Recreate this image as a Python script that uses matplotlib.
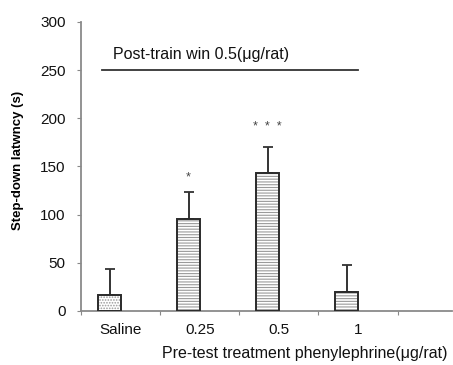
import matplotlib
matplotlib.use("Agg")
import matplotlib.pyplot as plt
import numpy as np

plt.rcParams['font.family'] = ['Liberation Sans', 'DejaVu Sans']
plt.rcParams['hatch.linewidth'] = 0.8

categories = ['Saline', '0.25', '0.5', '1']
means = [17, 95, 143, 20]
errors = [27, 28, 27, 28]
stars = ['', '*', '*  *  *', '']
star_gap = [0, 9, 15, 0]
hatches = ['......', '------', '------', '------']

fig = plt.figure(figsize=(4.53, 3.65), dpi=100)
ax = fig.add_axes([0.179, 0.148, 0.819, 0.792])

x = np.arange(len(categories))
offset = -0.14
width = 0.29
for i in range(len(categories)):
    ax.bar(x[i] + offset, means[i], width=width, color='white', edgecolor='#9a9a9a',
           linewidth=0, hatch=hatches[i], zorder=2)
    ax.bar(x[i] + offset, means[i], width=width, fill=False, edgecolor='#2a2a2a',
           linewidth=1.4, zorder=3)
    ax.errorbar(x[i] + offset, means[i], yerr=[[0], [errors[i]]], fmt='none',
                ecolor='#333333', elinewidth=1.4, capsize=3.5, capthick=1.3, zorder=1)
    if stars[i]:
        ax.text(x[i] + offset, means[i] + errors[i] + star_gap[i], stars[i], ha='center',
                va='bottom', fontsize=9, color='#444444')

ax.plot([-0.234, 3.006], [250, 250], color='#333333', lw=1.3)
ax.text(-0.095, 262, 'Post-train win 0.5(μg/rat)', fontsize=11.5, ha='left',
        va='baseline', color='#111111')

ax.set_ylim(0, 300)
ax.set_yticks([0, 50, 100, 150, 200, 250, 300])
ax.set_xticks(np.arange(-0.5, 4.6, 1.0))
ax.set_xticklabels([])
ax.set_xticks(x, minor=True)
ax.set_xticklabels(categories, minor=True)
ax.set_xlim(-0.5, 4.19)
ax.tick_params(axis='x', which='minor', length=0, pad=9, labelsize=11, labelcolor='#111111')
ax.tick_params(axis='x', which='major', length=3, direction='out', color='#888888')
ax.tick_params(axis='y', length=3, direction='out', color='#888888', labelsize=11, pad=8,
               labelcolor='#111111')

for s in ['top', 'right']:
    ax.spines[s].set_visible(False)
for s in ['left', 'bottom']:
    ax.spines[s].set_color('#8a8a8a')
    ax.spines[s].set_linewidth(1.3)

fig.text(0.04, 0.56, 'Step-down latwncy (s)', fontsize=9.5, fontweight='bold',
         rotation=90, ha='center', va='center')
fig.text(0.358, 0.019, 'Pre-test treatment phenylephrine(μg/rat)', fontsize=11.5,
         ha='left', va='baseline', color='#111111')

fig.savefig('out.png', dpi=100)
